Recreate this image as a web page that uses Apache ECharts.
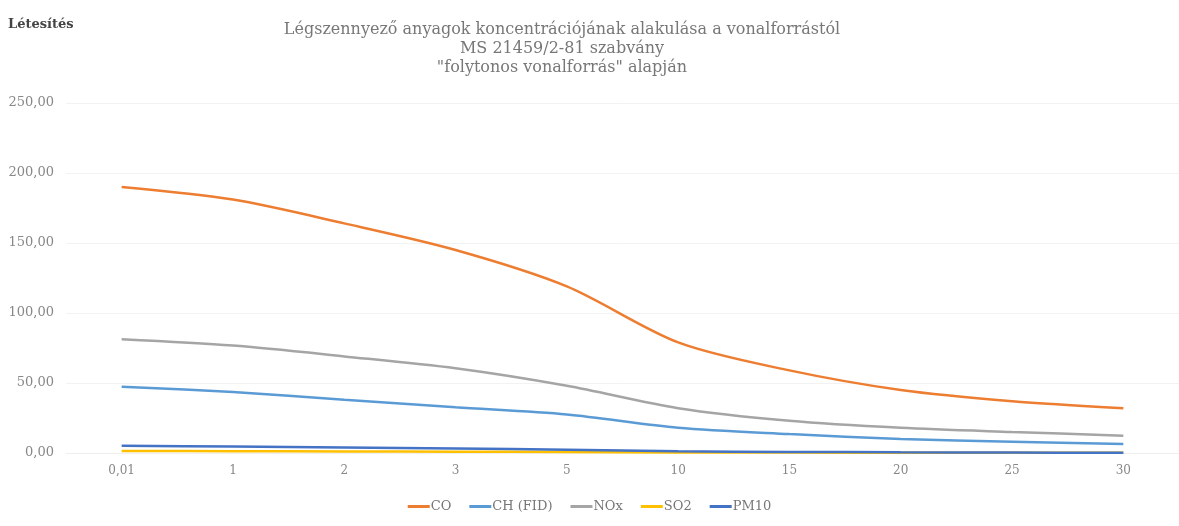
<!DOCTYPE html>
<html>
<head>
<meta charset="utf-8">
<script src="https://cdn.jsdelivr.net/npm/echarts@6/dist/echarts.min.js"></script>
<style>
html,body{margin:0;padding:0;background:#fff;}
#c{width:1179px;height:526px;}
</style>
</head>
<body>
<div id="c"></div>
<script>
var categories = ['0,01', '1', '2', '3', '5', '10', '15', '20', '25', '30'];
var seriesNames = ['CO', 'CH (FID)', 'NOx', 'SO2', 'PM10'];
var coValues   = [190, 181, 164, 145, 119, 79, 59, 45, 37, 32];
var chValues   = [47.4, 43.5, 38, 32.6, 27.5, 18, 13.5, 10, 8, 6.4];
var noxValues  = [81.2, 76.7, 69, 60.5, 48, 32, 23, 18, 15, 12.4];
var so2Values  = [1.5, 1.3, 1.1, 0.9, 0.7, 0.4, 0.3, 0.2, 0.15, 0.1];
var pm10Values = [5.2, 4.6, 3.9, 3.2, 2.3, 1.2, 0.8, 0.5, 0.3, 0.2];
var yTicks = [0, 50, 100, 150, 200, 250];

var colors = ['#ED7D31', '#5B9BD5', '#A5A5A5', '#FFC000', '#4472C4'];
var allValues = [coValues, chValues, noxValues, so2Values, pm10Values];
var serif = '"DejaVu Serif", "Liberation Serif", serif';

var chart = echarts.init(document.getElementById('c'));
chart.setOption({
  animation: false,
  backgroundColor: '#ffffff',
  color: colors,
  title: [
    {
      text: 'Létesítés',
      left: 3, top: 13,
      textStyle: {fontFamily: serif, fontSize: 13, fontWeight: 'bold', color: '#444'}
    },
    {
      text: 'Légszennyező anyagok koncentrációjának alakulása a vonalforrástól\nMS 21459/2-81 szabvány\n"folytonos vonalforrás" alapján',
      left: 557, top: 15, textAlign: 'center',
      textStyle: {fontFamily: serif, fontSize: 16, fontWeight: 'normal', color: '#777', lineHeight: 19, align: 'center'}
    }
  ],
  legend: {
    data: seriesNames,
    left: 'center',
    bottom: 8,
    itemWidth: 22,
    itemHeight: 3,
    itemGap: 18,
    icon: 'rect',
    textStyle: {fontFamily: serif, fontSize: 13, color: '#777', padding: [0, 0, 0, -4]}
  },
  grid: {left: 66, top: 103, width: 1124, height: 350, containLabel: false},
  xAxis: {
    type: 'category',
    data: categories,
    boundaryGap: true,
    axisLine: {show: true, lineStyle: {color: '#eeeeee'}},
    axisTick: {show: false},
    axisLabel: {fontFamily: serif, fontSize: 12, color: '#888', margin: 12, interval: 0}
  },
  yAxis: {
    type: 'value',
    min: 0, max: 250, interval: 50,
    axisLine: {show: false},
    axisTick: {show: false},
    splitLine: {lineStyle: {color: '#f2f2f2'}},
    axisLabel: {
      fontFamily: serif, fontSize: 13, color: '#888', margin: 12,
      formatter: function (v) { return v.toFixed(2).replace('.', ','); }
    }
  },
  series: seriesNames.map(function (name, i) {
    return {
      name: name,
      type: 'line',
      data: allValues[i],
      smooth: 0.3,
      showSymbol: false,
      symbol: 'none',
      lineStyle: {width: 2.5, color: colors[i]},
      z: 10 - (i === 4 ? -1 : i)
    };
  })
});
</script>
</body>
</html>
